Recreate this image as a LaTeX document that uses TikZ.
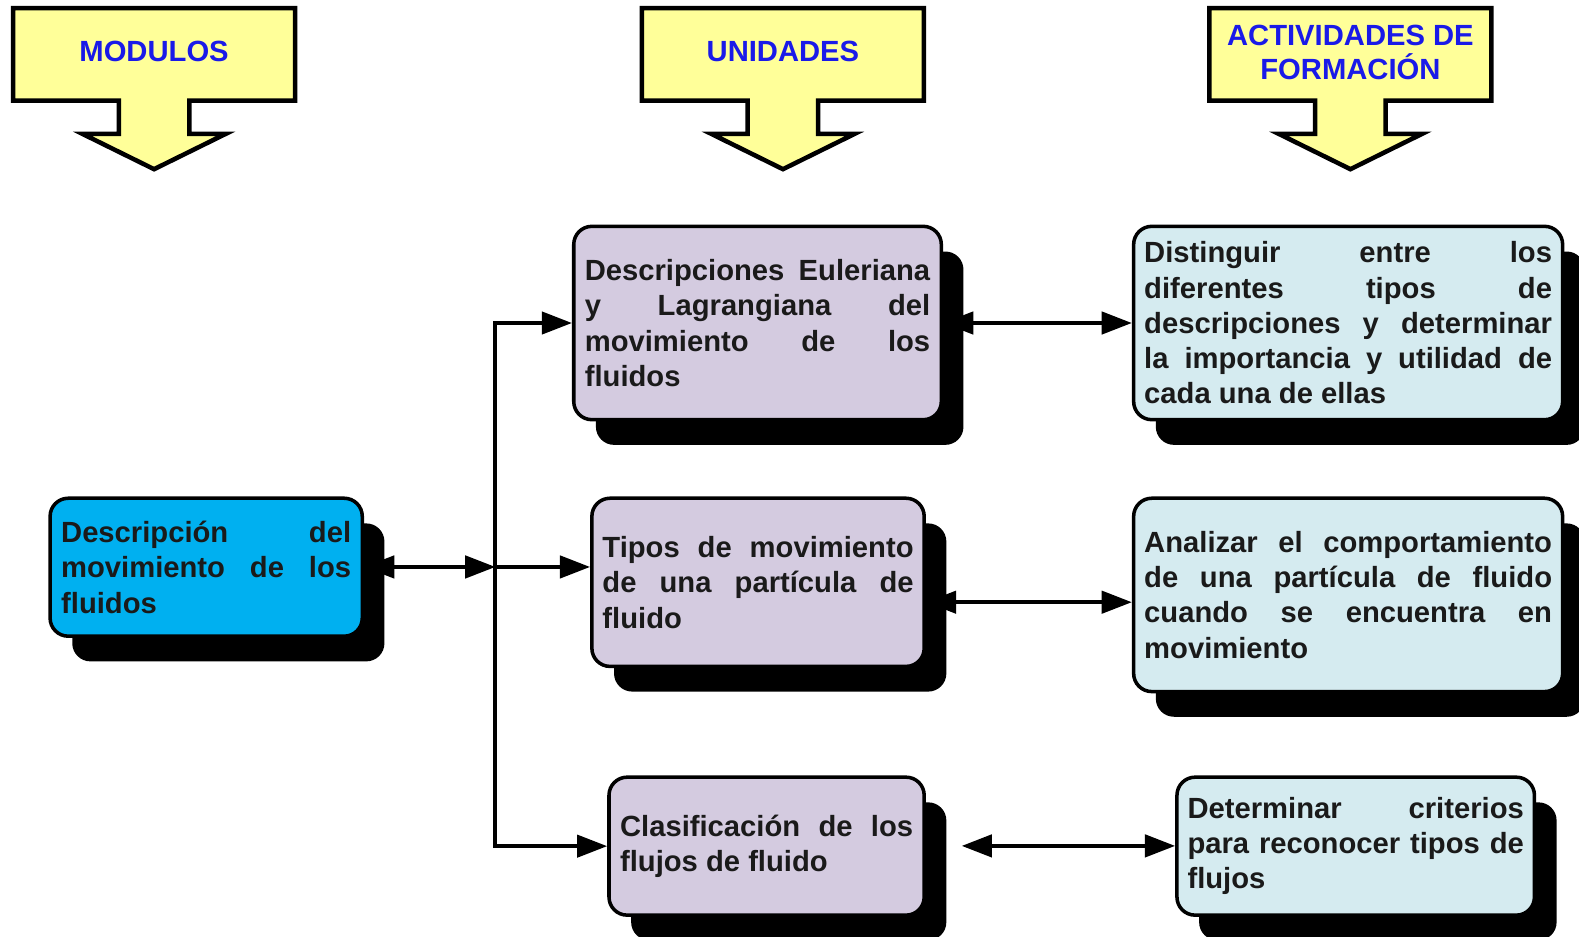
\documentclass[tikz,border=0pt]{standalone}
\usepackage{fontspec}
\setmainfont{Liberation Sans}
\usetikzlibrary{arrows.meta,shadows}
\definecolor{hdrfill}{HTML}{FFFF99}
\definecolor{hdrtext}{HTML}{1A1AE8}
\definecolor{modfill}{HTML}{00B0F0}
\definecolor{unifill}{HTML}{D4CBE0}
\definecolor{actfill}{HTML}{D5EBF0}
\definecolor{cardtext}{HTML}{1A1A1A}
\newcommand\J[2]{\makebox[#1pt][s]{#2}}
\begin{document}
\begin{tikzpicture}[x=1pt,y=-1pt,
  hdr/.style={draw=black,line width=4.5pt,fill=hdrfill,line join=miter},
  hdrlabel/.style={font=\fontsize{29}{34}\selectfont\bfseries,text=hdrtext,align=center,inner sep=0pt},
  card/.style={draw=black,line width=3.5pt,rounded corners=18pt,anchor=north west,inner sep=0pt,align=left,
    font=\fontsize{29}{35}\selectfont\bfseries,text=cardtext,
    drop shadow={shadow xshift=22pt,shadow yshift=-25pt,fill=black,opacity=1}},
  link/.style={line width=4pt,-{Triangle[length=30pt,width=22pt]}},
  dlink/.style={line width=4pt,{Triangle[length=30pt,width=22pt]}-{Triangle[length=30pt,width=22pt]}},
  hdrarrow/.pic={\draw[hdr] (-140,8) -- (140,8) -- (140,100) -- (35,100) -- (35,133) -- (71,133) -- (0,168) -- (-71,133) -- (-35,133) -- (-35,100) -- (-140,100) -- cycle;}
]
\clip (0,0) rectangle (1568,930);
\fill[white] (0,0) rectangle (1568,930);

% headers
\pic at (153,0) {hdrarrow};
\pic at (777.5,0) {hdrarrow};
\pic at (1341,0) {hdrarrow};
\node[hdrlabel] (h1) at (153,51) {MODULOS};
\node[hdrlabel] (h2) at (777.5,51) {UNIDADES};
\node[hdrlabel] (h3) at (1341,52) {ACTIVIDADES DE\\FORMACIÓN};

% module
\node[card,fill=modfill,minimum width=310pt,minimum height=137pt] (m1) at (48,493)
  {\J{288}{Descripción del}\\\J{288}{movimiento de los}\\fluidos};

% units
\node[card,fill=unifill,minimum width=365pt,minimum height=192pt] (u1) at (568,223)
  {\J{343}{Descripciones Euleriana}\\\J{343}{y Lagrangiana del}\\\J{343}{movimiento de los}\\fluidos};
\node[card,fill=unifill,minimum width=330pt,minimum height=167pt] (u2) at (586,493)
  {\J{309}{Tipos de movimiento}\\\J{309}{de una partícula de}\\fluido};
\node[card,fill=unifill,minimum width=313pt,minimum height=137pt] (u3) at (603,770)
  {\J{291}{Clasificación de los}\\flujos de fluido};

% activities
\node[card,fill=actfill,minimum width=426pt,minimum height=192pt] (a1) at (1124,223)
  {\J{405}{Distinguir entre los}\\\J{405}{diferentes tipos de}\\\J{405}{descripciones y determinar}\\\J{405}{la importancia y utilidad de}\\cada una de ellas};
\node[card,fill=actfill,minimum width=426pt,minimum height=192pt] (a2) at (1124,493)
  {\J{405}{Analizar el comportamiento}\\\J{405}{de una partícula de fluido}\\\J{405}{cuando se encuentra en}\\movimiento};
\node[card,fill=actfill,minimum width=355pt,minimum height=137pt] (a3) at (1167,770)
  {\J{334}{Determinar criterios}\\\J{334}{para reconocer tipos de}\\flujos};

% connectors
\coordinate (bus) at (492,563);
\draw[dlink] (m1.east |- bus) -- (bus);
\draw[link] (bus) |- (u1.west);
\draw[link] (bus) |- (u3.west);
\draw[link] (bus) -- (u2.west |- bus);

\draw[dlink] (u1.east) -- (a1.west);
\coordinate (r2) at (0,598);
\draw[dlink] (u2.east |- r2) -- (a2.west |- r2);
\coordinate (l3) at (955,840);
\draw[dlink] (l3) -- (a3.west |- l3);
\end{tikzpicture}
\end{document}
